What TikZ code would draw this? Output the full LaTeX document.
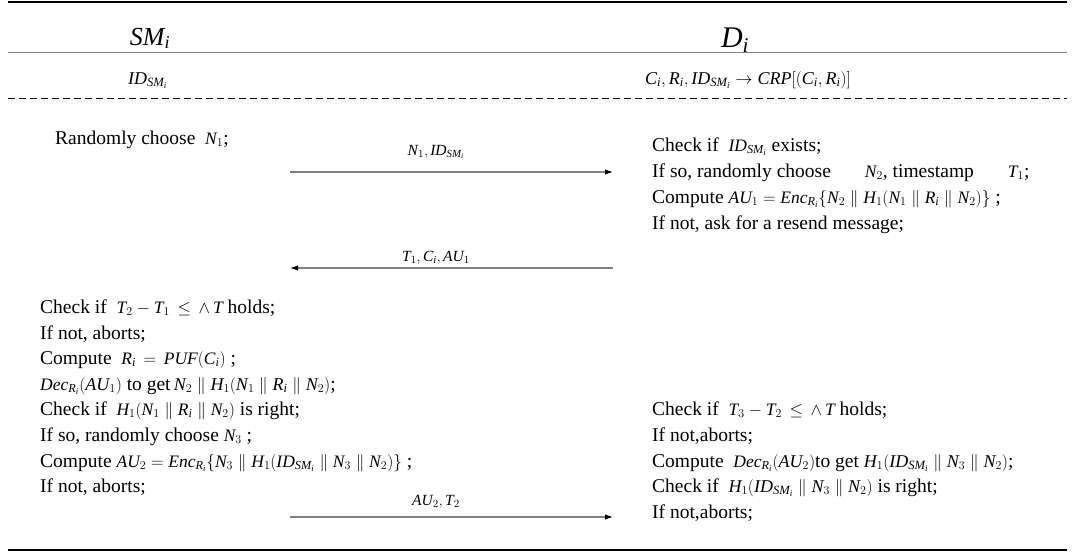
\documentclass[tikz,border=0pt]{standalone}
\usepackage{fontspec}
\setmainfont{Liberation Serif}
\usetikzlibrary{arrows.meta}
\newcommand{\vi}[1]{\mathit{#1}}
\newcommand{\fm}[1]{{\fontsize{17.5}{19}\selectfont$#1$}}
\newcommand{\fmb}[1]{{\fontsize{18}{20}\selectfont$#1$}}
\newcommand{\myID}{\vi{ID}_{\vi{SM}_{\vi{i}}}}
\newcommand{\myR}{\vi{R}_{\vi{i}}}
\newcommand{\myC}{\vi{C}_{\vi{i}}}
\newcommand{\myN}[1]{\vi{N}_{#1}}
\newcommand{\myT}[1]{\vi{T}_{#1}}
\newcommand{\myAU}[1]{\vi{AU}_{#1}}
\newcommand{\myH}{\vi{H}_{1}}
\newcommand{\cc}{\mathrel{\|}}
\begin{document}
\begin{tikzpicture}[x=1pt,y=-1pt,
  txt/.style={anchor=base west, inner sep=0pt, font=\fontsize{19.5}{22}\selectfont},
  lbl/.style={anchor=base, inner sep=0pt, font=\fontsize{15.5}{17}\selectfont},
  msg/.style={draw=gray, line width=1.1pt, -{Latex[black,length=8pt,width=5.5pt]}},
  thick rule/.style={line width=2.4pt},
  thin rule/.style={draw=gray, line width=1pt},
  dash rule/.style={line width=1pt, dash pattern=on 7pt off 4pt}]
\useasboundingbox (0,0) rectangle (1075,554);
% rules
\coordinate (t0) at (8,2);   \coordinate (t1) at (1067,2);
\coordinate (h0) at (8,52);  \coordinate (h1) at (1067,52);
\coordinate (d0) at (8,98);  \coordinate (d1) at (1067,98);
\coordinate (b0) at (8,550); \coordinate (b1) at (1067,550);
\draw[thick rule] (t0) -- (t1);
\draw[thin rule] (h0) -- (h1);
\draw[dash rule] (d0) -- (d1);
\draw[thick rule] (b0) -- (b1);
% header
\node[anchor=base, inner sep=0pt, font=\fontsize{26}{30}\selectfont] (sm) at (150,45) {$\vi{SM}_{\vi{i}}$};
\node[anchor=base, inner sep=0pt, font=\fontsize{30}{34}\selectfont] (di) at (735,47) {$\vi{D}_{\vi{i}}$};
\node[txt] (idsm) at (128,84) {\fmb{\myID}};
\node[txt] (crp) at (645,84) {\fmb{\myC,\myR,\myID\rightarrow \vi{CRP}\Big[\big(\myC,\myR\big)\Big]}};
% step 1
\node[txt] (rc) at (55,144) {Randomly choose \ \fm{\myN{1}};};
\coordinate (a1s) at (290,172); \coordinate (a1e) at (613,172);
\draw[msg] (a1s) -- (a1e);
\node[lbl] (l1) at (436,155) {$\myN{1},\myID$};
% D block 1
\node[txt] (r1) at (652,151) {Check if \ \fm{\myID} exists;};
\node[txt] (r2) at (652,177) {If so, randomly choose\hspace{34pt}\fm{\myN{2}}, timestamp\hspace{34pt}\fm{\myT{1}};};
\node[txt] (r3) at (652,203) {Compute \fm{\myAU{1}=\vi{Enc}_{\myR}\{\myN{2}\cc\myH(\myN{1}\cc\myR\cc\myN{2})\}} ;};
\node[txt] (r4) at (652,229) {If not, ask for a resend message;};
\coordinate (a2s) at (613,268); \coordinate (a2e) at (290,268);
\draw[msg] (a2s) -- (a2e);
\node[lbl] (l2) at (436,261) {$\myT{1},\myC,\myAU{1}$};
% SM block 2
\node[txt] (s1) at (40,313) {Check if \ \fm{\myT{2}-\myT{1}\,\leq\,\wedge\, \vi{T}} holds;};
\node[txt] (s2) at (40,339) {If not, aborts;};
\node[txt] (s3) at (40,364) {Compute \ \fm{\myR\,=\,\vi{PUF}(\myC)} ;};
\node[txt] (s4) at (40,390) {\fm{\vi{Dec}_{\myR}}\fmb{(\myAU{1})} to get\,\fmb{\myN{2}\cc\myH(\myN{1}\cc\myR\cc\myN{2})};};
\node[txt] (s5) at (40,415) {Check if \ \fm{\myH(\myN{1}\cc\myR\cc\myN{2})} is right;};
\node[txt] (s6) at (40,441) {If so, randomly choose \fm{\myN{3}} ;};
\node[txt] (s7) at (40,467) {Compute \fm{\myAU{2}=\vi{Enc}_{\myR}\{\myN{3}\cc\myH(\myID\cc\myN{3}\cc\myN{2})\}} ;};
\node[txt] (s8) at (40,492) {If not, aborts;};
\coordinate (a3s) at (290,517); \coordinate (a3e) at (613,517);
\draw[msg] (a3s) -- (a3e);
\node[lbl] (l3) at (436,505) {$\myAU{2},\myT{2}$};
% D block 2
\node[txt] (q1) at (652,415) {Check if \ \fm{\myT{3}-\myT{2}\,\leq\,\wedge\, \vi{T}} holds;};
\node[txt] (q2) at (652,441) {If not,aborts;};
\node[txt] (q3) at (652,467) {Compute \ \fm{\vi{Dec}_{\myR}}\fmb{(\myAU{2})}to get \fmb{\myH(\myID\cc\myN{3}\cc\myN{2})};};
\node[txt] (q4) at (652,492) {Check if \ \fmb{\myH(\myID\cc\myN{3}\cc\myN{2})} is right;};
\node[txt] (q5) at (652,518) {If not,aborts;};
\end{tikzpicture}
\end{document}
